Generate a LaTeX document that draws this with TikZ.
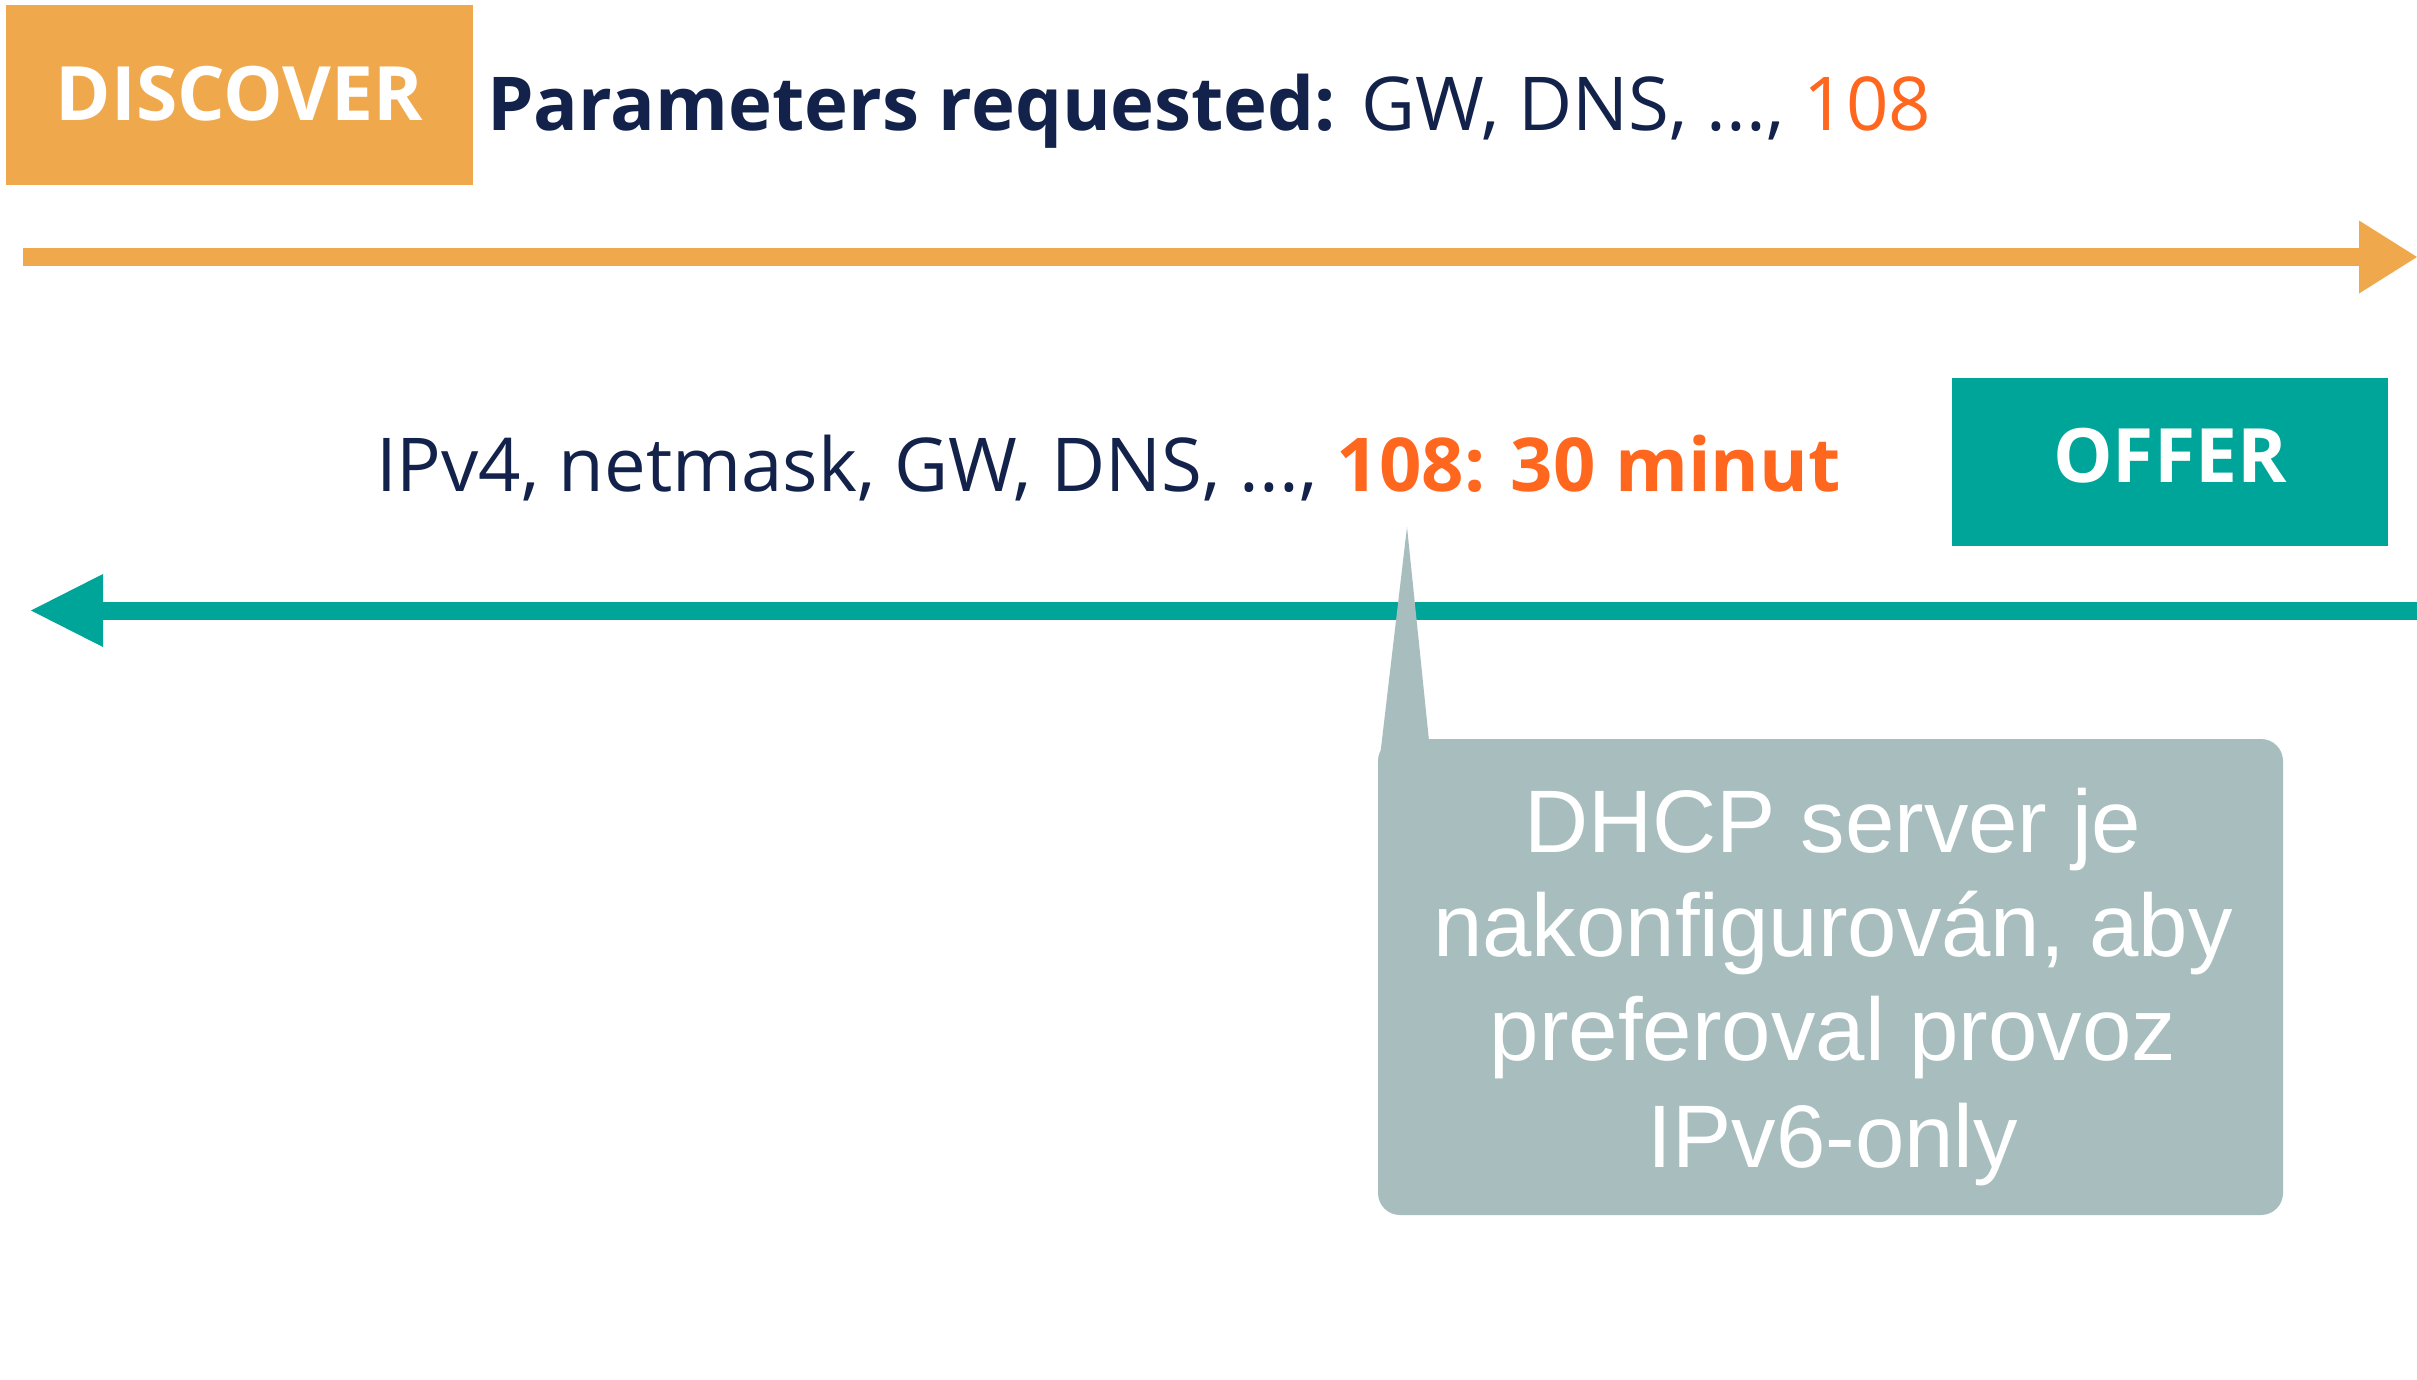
\documentclass[tikz,border=0pt]{standalone}
\usepackage{fontspec}
\usetikzlibrary{arrows.meta}
\newfontfamily\osans{Open Sans}
\newfontfamily\lsans{Liberation Sans}
\definecolor{discov}{RGB}{239,168,75}
\definecolor{offerc}{RGB}{0,165,154}
\definecolor{navy}{RGB}{19,34,74}
\definecolor{hot}{RGB}{255,103,31}
\definecolor{callg}{RGB}{168,189,190}
\begin{document}
\begin{tikzpicture}[x=1pt,y=-1pt,
  msgbox/.style={fill=#1, draw=none, inner sep=0pt, text=white,
    font=\osans\bfseries\fontsize{75}{80}\selectfont},
  msgtext/.style={anchor=base west, inner sep=0pt, text=navy,
    font=\osans\fontsize{74.3}{80}\selectfont},
  calltext/.style={anchor=base, inner sep=0pt, text=white,
    font=\lsans\fontsize{88.8}{105}\selectfont},
  flow/.style={draw=#1, line width=18pt, line cap=butt}
]
\useasboundingbox (0,0) rectangle (2417,1379);
\fill[white] (0,0) rectangle (2417,1379);

% DISCOVER
\node[msgbox=discov, minimum width=467pt, minimum height=180pt, text depth=4pt] (disc) at (239.5,95) {DISCOVER};
\node[msgtext] (req) at (487,130) {\bfseries Parameters requested:\mdseries{} GW, DNS, ..., \textcolor{hot}{108}};
\coordinate (dstart) at (23,257);
\coordinate (dend) at (2417,257);
\draw[flow=discov, -{Triangle[length=58pt,width=73pt,line width=0pt]}] (dstart) -- (dend);

% OFFER
\node[msgbox=offerc, minimum width=436pt, minimum height=168pt, text depth=14pt] (offer) at (2170,462) {OFFER};
\node[msgtext] (offtxt) at (376,491) {IPv4, netmask, GW, DNS, ..., \textcolor{hot}{\bfseries 108: 30 minut}};
\coordinate (ostart) at (2417,610.5);
\coordinate (oend) at (31,610.5);
\draw[flow=offerc, -{Triangle[length=72pt,width=73pt,line width=0pt]}] (ostart) -- (oend);

% Callout
\node[fill=callg, draw=none, rounded corners=22pt, minimum width=905pt, minimum height=476pt, inner sep=0pt] (callout) at (1830.5,977) {};
\coordinate (tip) at (1407,527);
\fill[callg] (tip) -- ([shift={(51,0)}]callout.north west) -- ([shift={(1,28)}]callout.north west) -- cycle;
\node[calltext] (c1) at (1833,852) {DHCP server je};
\node[calltext] (c2) at (1833,956) {nakonfigurován, aby};
\node[calltext] (c3) at (1833,1060) {preferoval provoz};
\node[calltext] (c4) at (1833,1167) {IPv6-only};
\end{tikzpicture}
\end{document}
